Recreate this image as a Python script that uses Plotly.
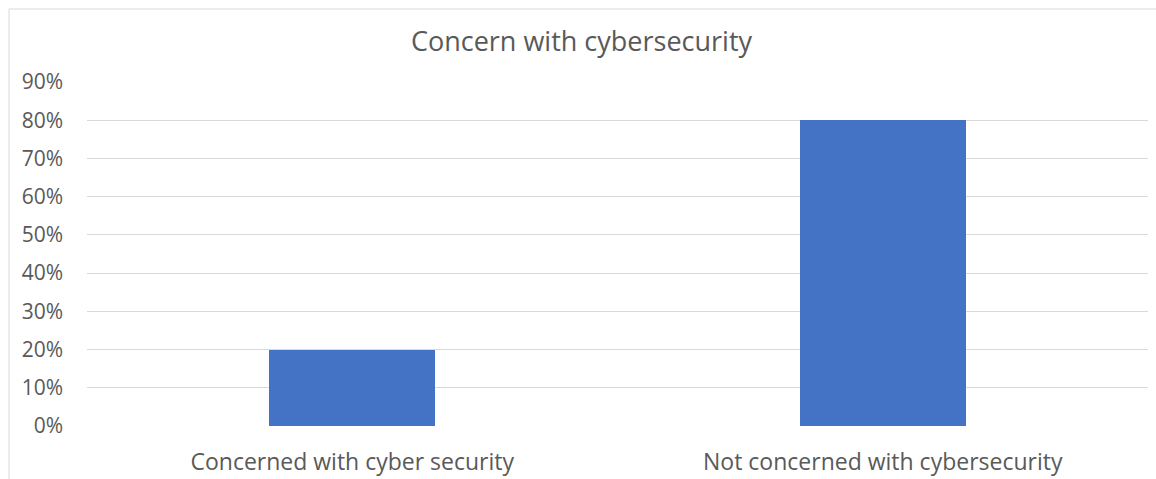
import plotly.graph_objects as go

categories = ["Concerned with cyber security", "Not concerned with cybersecurity"]
values = [0.20, 0.80]
title_text = "Concern with cybersecurity"

W, H = 1156, 479
L, R, T, B = 87, 8, 82, 53
pw = W - L - R
ph = H - T - B

font_family = "Open Sans, Carlito, Calibri, sans-serif"
text_color = "#595959"

fig = go.Figure(go.Bar(
    x=categories, y=values,
    marker=dict(color="#4472C4", line=dict(width=0)),
    width=0.313,
))

fig.update_layout(
    width=W, height=H,
    margin=dict(l=L, r=R, t=T, b=B, autoexpand=False),
    paper_bgcolor="white", plot_bgcolor="white",
    showlegend=False,
    title=dict(text=title_text, x=0.503, xanchor="center", y=1 - 42 / H, yanchor="middle",
               font=dict(family=font_family, size=27, color=text_color)),
    bargap=0,
)
fig.update_yaxes(
    range=[0, 0.9], dtick=0.1, tickformat=".0%",
    showgrid=True, gridcolor="#D9D9D9", gridwidth=1,
    zeroline=False, showline=False, ticks="",
    tickfont=dict(family=font_family, size=21, color=text_color),
    ticklabelstandoff=23, automargin=False,
)
fig.update_xaxes(
    showgrid=False, showline=False, ticks="",
    tickfont=dict(family=font_family, size=23, color=text_color),
    ticklabelstandoff=20, automargin=False,
)
# light chart border (top and left visible)
fig.add_shape(type="rect", xref="paper", yref="paper",
              x0=(9 - L) / pw, x1=(W + 5 - L) / pw,
              y0=-(H + 5 - T - ph) / ph, y1=1 + (T - 9) / ph,
              line=dict(color="#D9D9D9", width=1), fillcolor="rgba(0,0,0,0)", layer="below")

fig.write_html("out.html")
